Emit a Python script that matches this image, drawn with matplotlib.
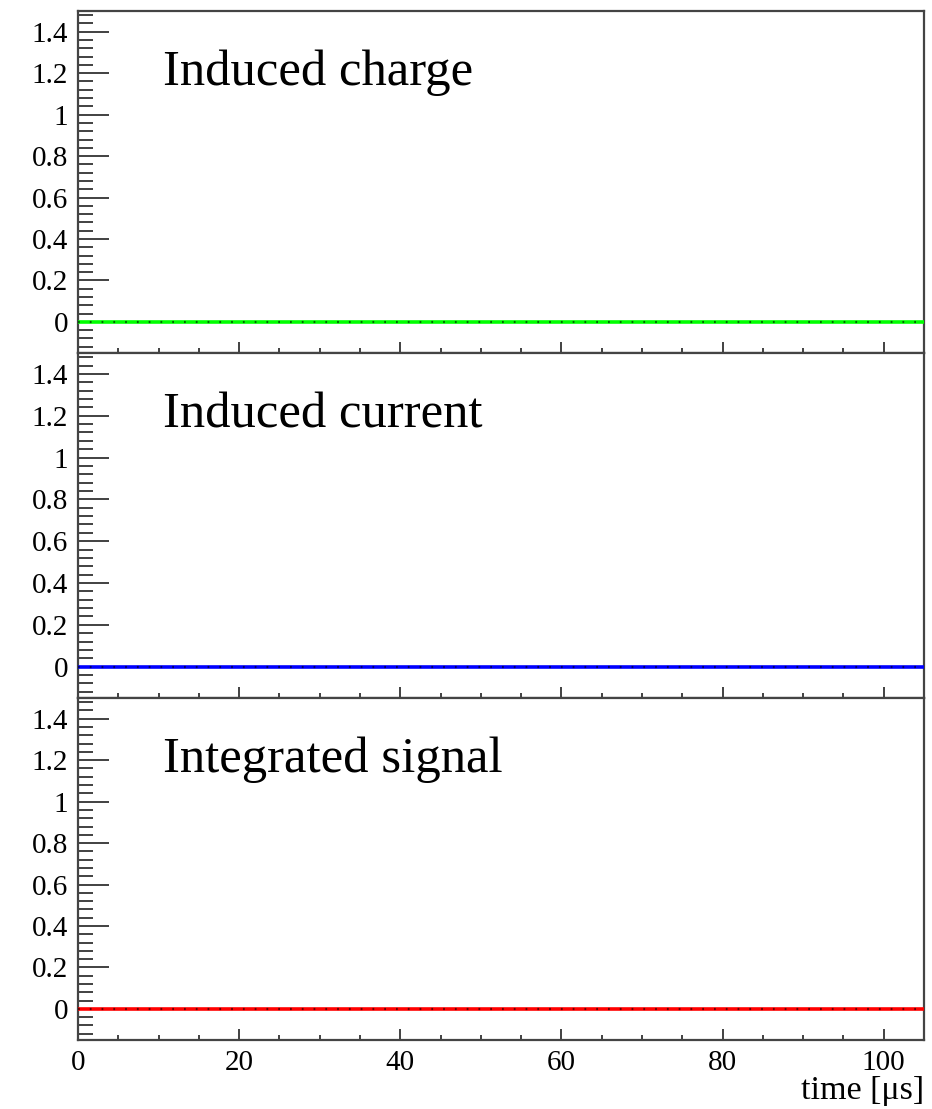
import numpy as np
import matplotlib
matplotlib.use("Agg")
import matplotlib.pyplot as plt
from matplotlib.ticker import MultipleLocator

plt.rcParams['font.family'] = ['Liberation Serif', 'DejaVu Serif']

# data: all three signals sit flat at zero over the whole window
time_us = [0, 105]
induced_charge = [0, 0]
induced_current = [0, 0]
integrated_signal = [0, 0]

titles = ["Induced charge", "Induced current", "Integrated signal"]
signals = [induced_charge, induced_current, integrated_signal]
colors = ["#00ff00", "#0000ff", "#ff0000"]
yticks = [0, 0.2, 0.4, 0.6, 0.8, 1.0, 1.2, 1.4]
ylabels = ["0", "0.2", "0.4", "0.6", "0.8", "1", "1.2", "1.4"]
xticks = [0, 20, 40, 60, 80, 100]
xlabels = ["0", "20", "40", "60", "80", "100"]

W, H = 932, 1109
fig = plt.figure(figsize=(W / 100, H / 100), dpi=100)

left, right = 78, 924
edges = [11, 353, 698, 1040]

for i in range(3):
    top, bot = edges[i], edges[i + 1]
    ax = fig.add_axes([left / W, 1 - bot / H, (right - left) / W, (bot - top) / H])
    ax.plot(time_us, signals[i], color=colors[i], lw=2.6, zorder=3)
    # small dark dots sitting on the line
    ax.plot(time_us, signals[i], color="#000000", lw=1.6, ls=(0, (0.8, 4.5)), alpha=0.6, zorder=4)
    ax.set_xlim(0, 105)
    ax.set_ylim(-0.15, 1.5)

    ax.set_yticks(yticks)
    ax.set_yticklabels(ylabels)
    ax.yaxis.set_minor_locator(MultipleLocator(0.04))
    ax.set_xticks(xticks)
    ax.xaxis.set_minor_locator(MultipleLocator(5))

    ax.tick_params(axis='y', which='major', direction='in', length=22, width=1.3,
                   labelsize=21, pad=7, colors='#333333', labelcolor='black')
    ax.tick_params(axis='y', which='minor', direction='in', length=11, width=1.3,
                   colors='#333333')
    ax.tick_params(axis='x', which='major', direction='in', length=8, width=1.3,
                   labelsize=21, pad=7, colors='#333333', labelcolor='black')
    ax.tick_params(axis='x', which='minor', direction='in', length=3.5, width=1.3,
                   colors='#333333')
    for s in ax.spines.values():
        s.set_linewidth(1.6)
        s.set_color('#444444')

    if i < 2:
        ax.tick_params(axis='x', labelbottom=False)
    else:
        ax.set_xticklabels(xlabels)

    ax.text(10.5, 1.143, titles[i], fontsize=36.5, ha='left', va='baseline')

fig.text(right / W, 1 - 1091 / H, "time [μs]", fontsize=24.5, ha='right', va='center')

fig.savefig("out.png", dpi=100)
